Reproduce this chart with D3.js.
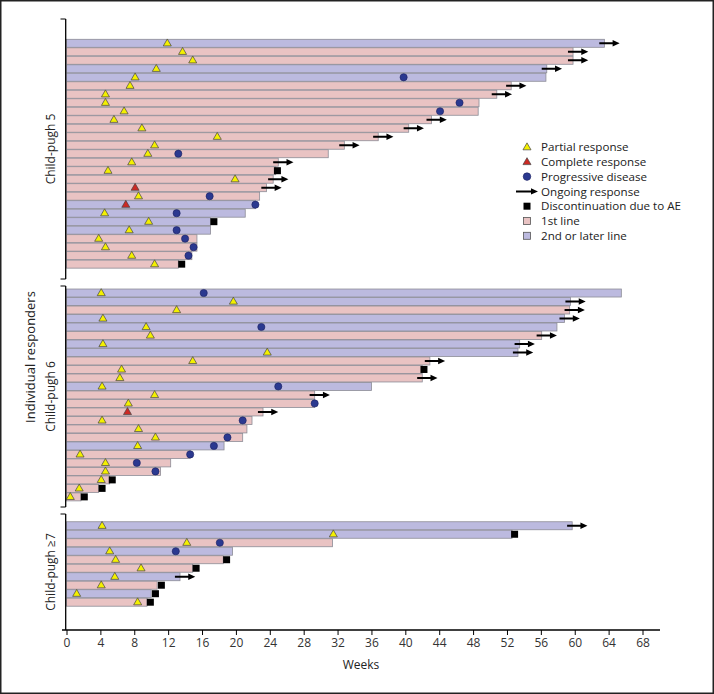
<!DOCTYPE html>
<html><head><meta charset="utf-8">
<script src="https://cdn.jsdelivr.net/npm/d3@7/dist/d3.min.js"></script>
<style>body{margin:0;background:#fff}svg{display:block}</style>
</head><body>
<svg id="c" width="714" height="694"></svg>
<script>
// ---------- DATA ----------
const groups = ["Child-pugh 5", "Child-pugh 6", "Child-pugh \u22657"];
const groupOf = [
  0,0,0,0,0,0,0,0,0,0,0,0,0,0,0,0,0,0,0,0,0,0,0,0,0,0,0,
  1,1,1,1,1,1,1,1,1,1,1,1,1,1,1,1,1,1,1,1,1,1,1,1,1,
  2,2,2,2,2,2,2,2,2,2];
const lineOfTherapy = [
  2,1,1,2,2,1,1,1,1,1,1,1,1,1,1,1,1,1,1,2,2,2,2,1,1,1,1,
  2,2,1,2,2,1,2,2,1,1,1,2,1,1,1,1,1,1,2,1,1,1,1,1,1,
  2,2,1,2,1,1,2,1,2,1];
const weeks = [
  63.5,59.8,59.8,56.7,56.6,52.5,50.8,48.7,48.6,43.1,40.4,36.8,32.8,30.9,25.0,24.7,24.4,23.6,22.8,22.3,21.1,17.0,17.0,15.4,15.4,14.8,13.2,
  65.5,59.5,59.4,58.8,57.9,56.1,53.5,53.3,42.9,42.0,42.0,36.0,29.3,29.3,23.2,21.9,21.3,20.8,18.6,14.6,12.3,11.1,5.1,3.8,1.7,
  59.7,52.6,31.4,19.6,18.5,14.9,13.4,10.7,10.0,9.5];
const partialResponse = [
  11.9,13.7,14.9,10.6,8.1,7.5,4.6,4.6,6.8,5.6,8.9,17.8,10.4,9.6,7.7,4.9,19.9,null,8.5,null,4.5,9.7,7.4,3.8,4.6,7.7,10.4,
  4.1,19.7,13.0,4.3,9.4,9.9,4.3,23.7,14.9,6.5,6.3,4.2,10.4,7.3,null,4.2,8.5,10.5,8.4,1.6,4.6,4.6,4.1,1.5,0.45,
  4.2,31.5,14.2,5.1,5.8,8.8,5.7,4.1,1.2,8.4];
const completeResponse = [
  null,null,null,null,null,null,null,null,null,null,null,null,null,null,null,null,null,8.1,null,7.0,null,null,null,null,null,null,null,
  null,null,null,null,null,null,null,null,null,null,null,null,null,null,7.2,null,null,null,null,null,null,null,null,null,null,
  null,null,null,null,null,null,null,null,null,null];
const progressiveDisease = [
  null,null,null,null,39.8,null,null,46.4,44.1,null,null,null,null,13.2,null,null,null,null,16.9,22.3,13.0,null,13.0,14.0,15.0,14.4,null,
  16.2,null,null,null,23.0,null,null,null,null,null,null,25.0,null,29.3,null,20.8,null,19.0,17.4,14.6,8.3,10.5,null,null,null,
  null,null,18.1,12.9,null,null,null,null,null,null];
const discontinuationAE = [
  null,null,null,null,null,null,null,null,null,null,null,null,null,null,null,24.9,null,null,null,null,null,17.4,null,null,null,null,13.6,
  null,null,null,null,null,null,null,null,null,42.2,null,null,null,null,null,null,null,null,null,null,null,null,5.4,4.2,2.1,
  null,52.9,null,null,18.9,15.3,null,11.2,10.5,9.9];
const ongoing = [
  1,1,1,1,0,1,1,0,0,1,1,1,1,0,1,0,1,1,0,0,0,0,0,0,0,0,0,
  0,1,1,1,0,1,1,1,1,0,1,0,1,0,1,0,0,0,0,0,0,0,0,0,0,
  1,0,0,0,0,0,1,0,0,0];
const xTicks = [0,4,8,12,16,20,24,28,32,36,40,44,48,52,56,60,64,68];
const legendLabels = ["Partial response","Complete response","Progressive disease","Ongoing response","Discontinuation due to AE","1st line","2nd or later line"];

// ---------- STYLE ----------
const C = {first:"#e9c3c3", second:"#bcbadf", barStroke:"#8c8c96", pr:"#f4f000", cr:"#cc2a25",
  pd:"#2b3990", ae:"#000", text:"#222"};
const FONT = "'Open Sans', 'Noto Sans', sans-serif";

const svg = d3.select("#c");
svg.append("rect").attr("x",0.75).attr("y",0.75).attr("width",712.5).attr("height",692.5)
  .attr("fill","#fff").attr("stroke","#222").attr("stroke-width",1.5);

const x = d3.scaleLinear().domain([0,68]).range([66.5,642.5]);
const groupGap = 3.4;
const slot = [];
{ let s = 0, prev = 0;
  groupOf.forEach((g,i)=>{ if(i>0){ s += (g!==prev)? groupGap : 1; } prev = g; slot.push(s); }); }
const y = d3.scaleLinear().domain([0, slot[slot.length-1]]).range([43.3, 602.2]);
const barH = 8;

const idx = d3.range(weeks.length);
svg.append("g").selectAll("rect").data(idx).join("rect")
  .attr("x", x(0)).attr("y", i=>y(slot[i])-barH/2)
  .attr("width", i=>x(weeks[i])-x(0)).attr("height", barH)
  .attr("fill", i=>lineOfTherapy[i]===1?C.first:C.second)
  .attr("stroke", C.barStroke).attr("stroke-width",0.8);

function arrowPath(x0,x1,cy){
  return `M${x0},${cy-1}L${x1-7},${cy-1}L${x1-7},${cy-3.2}L${x1},${cy}L${x1-7},${cy+3.2}L${x1-7},${cy+1}L${x0},${cy+1}Z`;
}
svg.append("g").selectAll("path").data(idx.filter(i=>ongoing[i])).join("path")
  .attr("d", i=>arrowPath(x(weeks[i]-0.6), x(weeks[i]+1.8), y(slot[i])))
  .attr("fill","#000");

svg.append("g").selectAll("rect").data(idx.filter(i=>discontinuationAE[i]!=null)).join("rect")
  .attr("x", i=>x(discontinuationAE[i])-3.5).attr("y", i=>y(slot[i])-3.5)
  .attr("width",7).attr("height",7).attr("fill",C.ae);

svg.append("g").selectAll("circle").data(idx.filter(i=>progressiveDisease[i]!=null)).join("circle")
  .attr("cx", i=>x(progressiveDisease[i])).attr("cy", i=>y(slot[i]))
  .attr("r",3.6).attr("fill",C.pd).attr("stroke","#1c2260").attr("stroke-width",0.6);

const tri = d3.symbol().type(d3.symbolTriangle).size(28);
svg.append("g").selectAll("path").data(idx.filter(i=>partialResponse[i]!=null)).join("path")
  .attr("transform", i=>`translate(${x(partialResponse[i])},${y(slot[i])+0.3})`)
  .attr("d", tri).attr("fill",C.pr).attr("stroke","#444").attr("stroke-width",0.7);
svg.append("g").selectAll("path").data(idx.filter(i=>completeResponse[i]!=null)).join("path")
  .attr("transform", i=>`translate(${x(completeResponse[i])},${y(slot[i])+0.3})`)
  .attr("d", tri).attr("fill",C.cr).attr("stroke","#444").attr("stroke-width",0.7);

const xAxis = svg.append("g").attr("transform","translate(0,630)")
  .call(d3.axisBottom(x).tickValues(xTicks).tickSize(5).tickPadding(3).tickFormat(d3.format("d")));
xAxis.select(".domain").remove();
xAxis.append("line").attr("x1",62).attr("x2",660).attr("stroke","#000").attr("stroke-width",1.3);
xAxis.selectAll(".tick line").attr("stroke","#000");
xAxis.selectAll("text").attr("font-family",FONT).attr("font-size",12).attr("fill","#333");
svg.append("text").attr("x", 361).attr("y", 669).attr("text-anchor","middle")
  .attr("font-family",FONT).attr("font-size",12).attr("fill","#222").text("Weeks");

const segs = [[19,279],[286,507],[514,630]];
const yAx = svg.append("g");
segs.forEach(([a,b],g)=>{
  yAx.append("line").attr("x1",65.7).attr("x2",65.7).attr("y1",a).attr("y2",b).attr("stroke","#000").attr("stroke-width",1.3);
  yAx.append("line").attr("x1",60.5).attr("x2",65.7).attr("y1",a).attr("y2",a).attr("stroke","#000").attr("stroke-width",1);
  if(g<2) yAx.append("line").attr("x1",60.5).attr("x2",65.7).attr("y1",b).attr("y2",b).attr("stroke","#000").attr("stroke-width",1);
  const mid = (a+b)/2;
  svg.append("text").attr("transform",`translate(55,${mid}) rotate(-90)`).attr("text-anchor","middle")
    .attr("font-family",FONT).attr("font-size",12).attr("fill","#222").text(groups[g]);
});
svg.append("text").attr("transform","translate(35,357) rotate(-90)").attr("text-anchor","middle")
  .attr("font-family",FONT).attr("font-size",13).attr("fill","#222").text("Individual responders");

const lg = svg.append("g").attr("transform","translate(527,147)");
const step = 14.8;
legendLabels.forEach((t,k)=>{
  const item = lg.append("g").attr("transform",`translate(0,${k*step})`);
  if(k===0||k===1) item.append("path").attr("d",tri).attr("transform","translate(0,0.5)")
    .attr("fill",k===0?C.pr:C.cr).attr("stroke","#444").attr("stroke-width",0.7);
  if(k===2) item.append("circle").attr("r",3.8).attr("fill",C.pd).attr("stroke","#1c2260").attr("stroke-width",0.6);
  if(k===3) item.append("path").attr("d",arrowPath(-11,11,0)).attr("fill","#000");
  if(k===4) item.append("rect").attr("x",-3.5).attr("y",-3.5).attr("width",7).attr("height",7).attr("fill","#000");
  if(k===5||k===6) item.append("rect").attr("x",-3.5).attr("y",-3.5).attr("width",7).attr("height",7)
    .attr("fill",k===5?C.first:C.second).attr("stroke","#555").attr("stroke-width",0.8);
  item.append("text").attr("x",14).attr("y",4.2).attr("font-family",FONT).attr("font-size",11.6)
    .attr("fill","#222").text(t);
});
</script>
</body></html>
